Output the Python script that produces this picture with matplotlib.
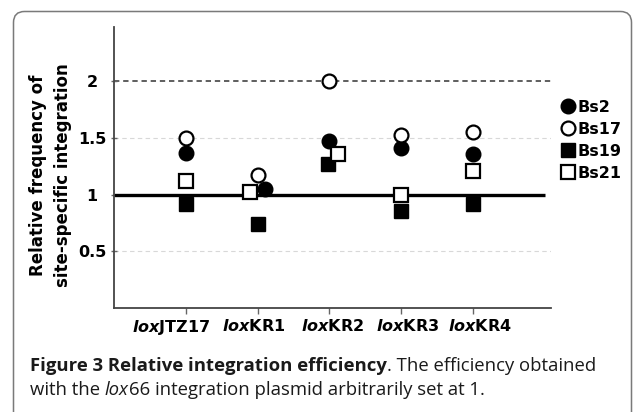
import matplotlib
matplotlib.use("Agg")
import matplotlib.pyplot as plt
from matplotlib.patches import FancyBboxPatch
from matplotlib.transforms import ScaledTranslation

# data
sites = [r"$\mathit{lox}\mathbf{JTZ17}$", r"$\mathit{lox}\mathbf{KR1}$", r"$\mathit{lox}\mathbf{KR2}$",
         r"$\mathit{lox}\mathbf{KR3}$", r"$\mathit{lox}\mathbf{KR4}$"]
site_pos = [1, 2, 3, 4, 5]

bs2_x = [1, 2.1, 3, 4, 5]
bs2 = [1.37, 1.05, 1.47, 1.41, 1.36]
bs17_x = [1, 2, 3, 4, 5]
bs17 = [1.50, 1.17, 2.00, 1.53, 1.55]
bs19_x = [1, 2, 2.98, 4, 5]
bs19 = [0.92, 0.74, 1.27, 0.86, 0.92]
bs21_x = [1, 1.9, 3.12, 4, 5]
bs21 = [1.12, 1.02, 1.36, 1.00, 1.21]

yticks = [0.5, 1, 1.5, 2]
ytick_labels = ["0.5", "1", "1.5", "2"]

plt.rcParams["mathtext.fontset"] = "custom"
plt.rcParams["mathtext.it"] = "DejaVu Sans:style=italic:weight=bold"
plt.rcParams["mathtext.bf"] = "DejaVu Sans:weight=bold"
plt.rcParams["mathtext.rm"] = "DejaVu Sans:weight=bold"

W, H = 635, 412
fig = plt.figure(figsize=(W / 100, H / 100), dpi=100)

# background layer in pixel units: frame, y label, caption
bg = fig.add_axes([0, 0, 1, 1], zorder=-1)
bg.set_xlim(0, W)
bg.set_ylim(H, 0)
bg.axis("off")
bg.add_patch(FancyBboxPatch((13.5, 11.5), 618, 430, boxstyle="round,pad=0,rounding_size=11",
                            fc="white", ec="#7a7a7a", lw=1.1))

ax = fig.add_axes([114 / W, 1 - 308 / H, (551 - 114) / W, (308 - 27) / H])
ax.set_xlim(0, 6.09)
ax.set_ylim(0, 2.48)

ax.axhline(0.5, color="#d8d8d8", ls=(0, (4, 3)), lw=0.8, zorder=1)
ax.axhline(1.5, color="#d8d8d8", ls=(0, (4, 3)), lw=0.8, zorder=1)
ax.axhline(2, color="#333333", ls=(0, (3.5, 2.5)), lw=1.1, zorder=1)
ax.hlines(1, 0, 6.0, color="black", lw=2.4, zorder=2)

ms = 10.5
ax.plot(bs2_x, bs2, ls="none", marker="o", ms=ms, mfc="black", mec="black", label="Bs2", zorder=3)
ax.plot(bs17_x, bs17, ls="none", marker="o", ms=ms - 0.5, mfc="white", mec="black", mew=1.6,
        label="Bs17", zorder=3)
ax.plot(bs19_x, bs19, ls="none", marker="s", ms=ms, mfc="black", mec="black", label="Bs19", zorder=3)
ax.plot(bs21_x, bs21, ls="none", marker="s", ms=ms - 0.5, mfc="white", mec="black", mew=1.6,
        label="Bs21", zorder=3)

ax.set_xticks(site_pos)
ax.set_xticklabels(sites, fontsize=11.5)
ax.set_yticks(yticks)
ax.set_yticklabels(ytick_labels, fontsize=11.5, fontweight="bold", family="DejaVu Sans", ha="center")
ax.tick_params(axis="x", direction="out", length=4, width=1, color="#666666", pad=3)
ax.tick_params(axis="y", direction="inout", length=5, width=1, color="#666666", pad=13.3)
# the labels in the source sit a little off their ticks
for lab, dx in zip(ax.get_xticklabels(), [-15, -4, 3, 7, 7]):
    lab.set_transform(lab.get_transform() + ScaledTranslation(dx / 100, 0, fig.dpi_scale_trans))
for s in ["top", "right"]:
    ax.spines[s].set_visible(False)
for s in ["left", "bottom"]:
    ax.spines[s].set_color("#444444")
    ax.spines[s].set_linewidth(1.3)

leg = ax.legend(loc="upper left", bbox_to_anchor=(1.025, 0.74), frameon=False,
                prop={"family": "DejaVu Sans", "weight": "bold", "size": 11.5},
                handlelength=0.7, handletextpad=0.25, labelspacing=0.43, borderaxespad=0,
                borderpad=0)

bg.text(50.5, 175, "Relative frequency of\nsite-specific integration", rotation=90,
        ha="center", va="center", multialignment="center", fontsize=12,
        fontweight="bold", family="DejaVu Sans", linespacing=1.5)


def put_line(x, y, parts, size):
    fig.canvas.draw()
    r = fig.canvas.get_renderer()
    for txt, weight, style in parts:
        t = bg.text(x, y, txt, fontsize=size, family="Open Sans", fontweight=weight,
                    fontstyle=style, color="#1a1a1a", va="baseline", ha="left")
        bb = t.get_window_extent(renderer=r)
        x += bb.width


put_line(30, 371, [("Figure 3 Relative integration efficiency", "bold", "normal"),
                   (". The efficiency obtained", "normal", "normal")], 13.3)
put_line(30, 395, [("with the ", "normal", "normal"), ("lox", "normal", "italic"),
                   ("66 integration plasmid arbitrarily set at 1.", "normal", "normal")], 13.3)

fig.savefig("out.png", dpi=100)
